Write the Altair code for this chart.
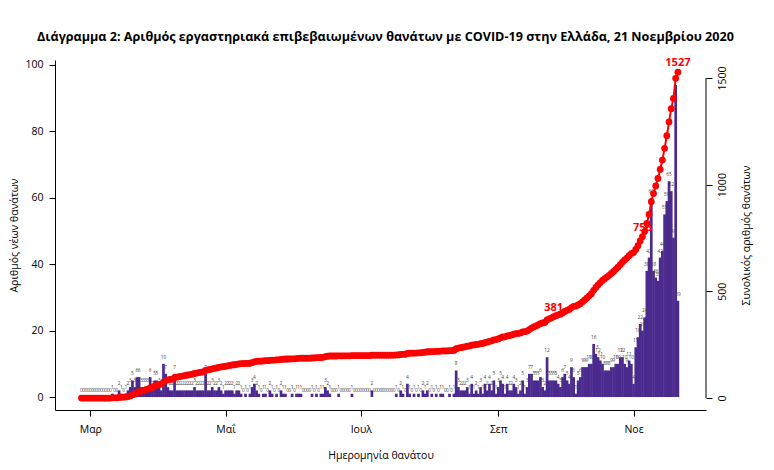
import json
import altair as alt
import pandas as pd

# ---------------- data ----------------
month_labels = ["Ιαν", "Φεβ", "Μαρ", "Απρ", "Μαΐ", "Ιουν", "Ιουλ", "Αυγ", "Σεπ", "Οκτ", "Νοε", "Δεκ"]
tick_months = [3, 5, 7, 9, 11]          # Mar, May, Jul, Sep, Nov (day 1)
left_ticks = [0, 20, 40, 60, 80, 100]
right_ticks = [0, 500, 1000, 1500]

first_day = "2020-02-26"
deaths_feb = [0, 0, 0, 0]
deaths_mar = [0, 0, 0, 0, 0, 0, 0, 0, 0, 0,
              1, 0, 0, 2, 1, 0, 1, 2, 3, 5,
              3, 6, 6, 3, 3, 3, 3, 6, 2, 5, 5]
deaths_apr = [3, 2, 10, 7, 3, 2, 2, 7, 2,
              2, 2, 2, 2, 2, 2, 2, 3, 2, 2,
              2, 2, 7, 2, 2, 3, 2, 2, 3, 2, 1]
deaths_may = [2, 2, 2, 2, 1, 2, 2, 1, 0, 1, 0,
              1, 3, 4, 2, 1, 0, 1, 1, 0, 2,
              1, 0, 1, 0, 2, 1, 1, 0, 0, 1]
deaths_jun = [0, 1, 1, 1, 0, 0, 0, 0, 1, 0,
              1, 0, 1, 1, 3, 2, 1, 0, 0, 0,
              1, 0, 0, 0, 0, 0, 1, 0, 0, 0]
deaths_jul = [0, 0, 0, 0, 0, 2, 0, 0, 0, 0,
              0, 0, 0, 0, 0, 0, 1, 0, 2, 1,
              0, 4, 1, 0, 1, 0, 1, 0, 2, 1, 2]
deaths_aug = [0, 1, 0, 1, 0, 1, 1, 0, 0, 1,
              0, 1, 8, 3, 2, 2, 2, 3, 1, 4,
              1, 2, 1, 3, 1, 4, 2, 4, 2, 5, 1]
deaths_sep = [3, 5, 4, 1, 4, 2, 2, 4, 3, 1,
              2, 5, 1, 3, 7, 7, 5, 5, 5, 6,
              3, 2, 12, 5, 5, 5, 5, 4, 3, 6]
deaths_oct = [7, 5, 4, 9, 6, 1, 5, 6, 9, 9,
              9, 10, 10, 16, 13, 12, 11, 10, 8, 8,
              8, 9, 9, 10, 10, 12, 12, 10, 9, 11, 10]
deaths_nov = [4, 15, 18, 22, 20, 24, 38, 42, 60, 38,
              36, 35, 42, 44, 55, 59, 65, 62, 48, 94, 29]

label_days = ["2020-09-26", "2020-11-05", "2020-11-21"]

title_text = ("Διάγραμμα 2: Αριθμός εργαστηριακά επιβεβαιωμένων θανάτων "
              "με COVID-19 στην Ελλάδα, 21 Νοεμβρίου 2020")

# ---------------- tables ----------------
deaths = (deaths_feb + deaths_mar + deaths_apr + deaths_may + deaths_jun +
          deaths_jul + deaths_aug + deaths_sep + deaths_oct + deaths_nov)
dates = pd.date_range(first_day, periods=len(deaths), freq="D")
df = pd.DataFrame({
    "date": dates.strftime("%Y-%m-%dT00:00:00"),
    "day": dates.strftime("%Y-%m-%d"),
    "deaths": deaths,
})
df["total"] = df["deaths"].cumsum()
lab = df[df["day"].isin(label_days)].copy()
rule_df = pd.DataFrame({"total": [right_ticks[0]], "hi": [right_ticks[-1]]})

FONT = "Open Sans"
BAR = "#4B2A8E"

label_expr = json.dumps(month_labels, ensure_ascii=False) + "[month(datum.value)]"

x_enc = alt.X(
    "date:T",
    scale=alt.Scale(domain=[alt.DateTime(year=2020, month=2, date=16, hours=8),
                            alt.DateTime(year=2020, month=12, date=1, hours=10)]),
    axis=alt.Axis(
        values=[alt.DateTime(year=2020, month=m, date=1) for m in tick_months],
        labelExpr=label_expr,
        title="Ημερομηνία θανάτου",
        grid=False, tickSize=6, labelPadding=8, titlePadding=16,
        labelFontSize=10.5, titleFontSize=10.5, titleFontWeight="normal",
        labelFont=FONT, titleFont=FONT, labelColor="black", titleColor="black",
        domainColor="black", tickColor="black", labelFlush=False,
    ),
)

left_axis = alt.Axis(
    values=left_ticks, title="Αριθμός νέων θανάτων", grid=False, tickSize=6,
    labelPadding=6, titlePadding=5, labelFontSize=10.5, titleFontSize=10.5,
    titleFontWeight="normal", labelFont=FONT, titleFont=FONT,
    labelColor="black", titleColor="black", domainColor="black", tickColor="black",
)
y_left = alt.Y("deaths:Q", scale=alt.Scale(domain=[-3.9, 101.5], nice=False, zero=False),
               axis=left_axis)

right_axis = alt.Axis(
    orient="right", values=right_ticks, format="d", title="Συνολικός αριθμός θανάτων",
    grid=False, tickSize=6, domain=False, labelAngle=-90, labelAlign="center",
    labelBaseline="top", labelPadding=5, titleAngle=-90, titleBaseline="top",
    titlePadding=14, labelFontSize=10.5, titleFontSize=10.5,
    titleFontWeight="normal", labelFont=FONT, titleFont=FONT,
    labelColor="black", titleColor="black", tickColor="black",
)
y_right = alt.Y("total:Q", scale=alt.Scale(domain=[-56, 1584], nice=False, zero=False),
                axis=right_axis)

bars = alt.Chart(df).mark_bar(width=2.7, color=BAR).encode(x=x_enc, y=y_left)
bar_text = alt.Chart(df).mark_text(
    fontSize=4.8, dy=-4, baseline="bottom", color="#444", font=FONT
).encode(x=x_enc, y=y_left, text=alt.Text("deaths:Q", format="d"))
left = alt.layer(bars, bar_text)

line = alt.Chart(df).mark_line(color="red", strokeWidth=2).encode(x=x_enc, y=y_right)
cum_text = alt.Chart(lab).mark_text(
    color="red", fontWeight="bold", fontSize=11, dy=-4, baseline="bottom", font=FONT
).encode(x=x_enc, y=y_right, text=alt.Text("total:Q", format="d"))
points = alt.Chart(df).mark_circle(color="red", size=46, opacity=1).encode(x=x_enc, y=y_right)
axis_rule = alt.Chart(rule_df).mark_rule(color="black", strokeWidth=1).encode(
    x=alt.value(651), y=y_right, y2="hi:Q"
)
right = alt.layer(line, cum_text, points, axis_rule)

chart = alt.layer(left, right).resolve_scale(y="independent").properties(
    width=651, height=350,
    autosize=alt.AutoSizeParams(type="none"),
    padding={"left": 47, "top": 52, "right": 55, "bottom": 55},
    title=alt.TitleParams(title_text, fontSize=12.6, fontWeight="bold", font=FONT,
                          color="black", offset=14, dx=5, anchor="middle"),
).configure_view(strokeWidth=0)

chart.save("out.html", embed_options={"renderer": "svg", "actions": False})
